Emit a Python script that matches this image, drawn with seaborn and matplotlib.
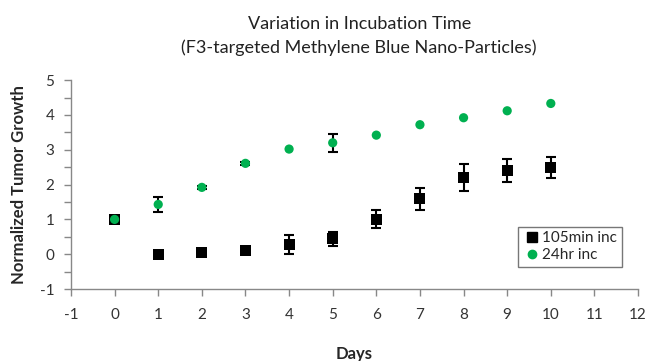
import numpy as np
import pandas as pd
import seaborn as sns
import matplotlib
matplotlib.use("Agg")
import matplotlib.pyplot as plt
from matplotlib.ticker import MultipleLocator
from matplotlib.lines import Line2D

days = [0, 1, 2, 3, 4, 5, 6, 7, 8, 9, 10]
inc105_mean = [1.0, -0.01, 0.04, 0.1, 0.29, 0.44, 1.0, 1.59, 2.2, 2.4, 2.49]
inc105_err = [0.0, 0.0, 0.0, 0.0, 0.27, 0.21, 0.26, 0.32, 0.39, 0.33, 0.3]
inc24_mean = [1.0, 1.43, 1.92, 2.61, 3.02, 3.2, 3.42, 3.72, 3.92, 4.12, 4.33]
inc24_err = [0.0, 0.22, 0.04, 0.05, 0.0, 0.25, 0.0, 0.0, 0.0, 0.0, 0.0]
series_names = ["105min inc", "24hr inc"]

sns.set_theme(style="white")
plt.rcParams['font.family'] = ['Lato', 'DejaVu Sans']
plt.rcParams['axes.unicode_minus'] = False

d1 = pd.DataFrame({"Days": days, "val": inc105_mean, "err": inc105_err})
d2 = pd.DataFrame({"Days": days, "val": inc24_mean, "err": inc24_err})

fig = plt.figure(figsize=(6.53, 3.61), dpi=100)
ax = fig.add_axes([0.1087, 0.1994, 0.8684, 0.5786])

for d in (d1, d2):
    e = d[d.err > 0]
    ax.errorbar(e.Days, e.val, yerr=e.err, fmt='none', ecolor='black', elinewidth=1.5,
                capsize=3.5, capthick=1.5, zorder=2)

sns.scatterplot(data=d1, x="Days", y="val", marker='s', color='black', s=62,
                edgecolor='none', ax=ax, zorder=3, legend=False)
sns.scatterplot(data=d2, x="Days", y="val", marker='o', color='#00b050', s=44,
                edgecolor='none', ax=ax, zorder=4, legend=False)

ax.set_xlim(-1, 12)
ax.set_ylim(-1, 5)
ax.xaxis.set_major_locator(MultipleLocator(1))
ax.yaxis.set_major_locator(MultipleLocator(1))
ax.yaxis.set_minor_locator(MultipleLocator(0.5))
ax.tick_params(axis='both', which='both', direction='out', length=5, width=1, color='#888888',
               labelsize=11, labelcolor='#333333')
ax.tick_params(axis='x', which='major', bottom=True, pad=9)
ax.tick_params(axis='y', which='both', left=True, pad=7)
for s in ['top', 'right']:
    ax.spines[s].set_visible(False)
for s in ['left', 'bottom']:
    ax.spines[s].set_color('#888888')
    ax.spines[s].set_linewidth(1)

ax.set_xlabel("Days", fontsize=12, fontweight='bold', labelpad=17)
ax.set_ylabel("Normalized Tumor Growth", fontsize=12, fontweight='bold', labelpad=9)
fig.suptitle("Variation in Incubation Time\n(F3-targeted Methylene Blue Nano-Particles)",
             x=0.55, y=0.955, fontsize=13, linespacing=1.55, color='#222222')

handles = [Line2D([], [], marker='s', color='black', linestyle='none', markersize=7),
           Line2D([], [], marker='o', color='#00b050', linestyle='none', markersize=6)]
leg = ax.legend(handles, series_names, loc='lower right', bbox_to_anchor=(0.985, 0.07),
                frameon=True, fancybox=False, fontsize=11, handletextpad=0.1,
                borderpad=0.3, labelspacing=0.2, handlelength=1.2)
leg.get_frame().set_edgecolor('#555555')
leg.get_frame().set_linewidth(1)

fig.savefig("out.png", dpi=100)
